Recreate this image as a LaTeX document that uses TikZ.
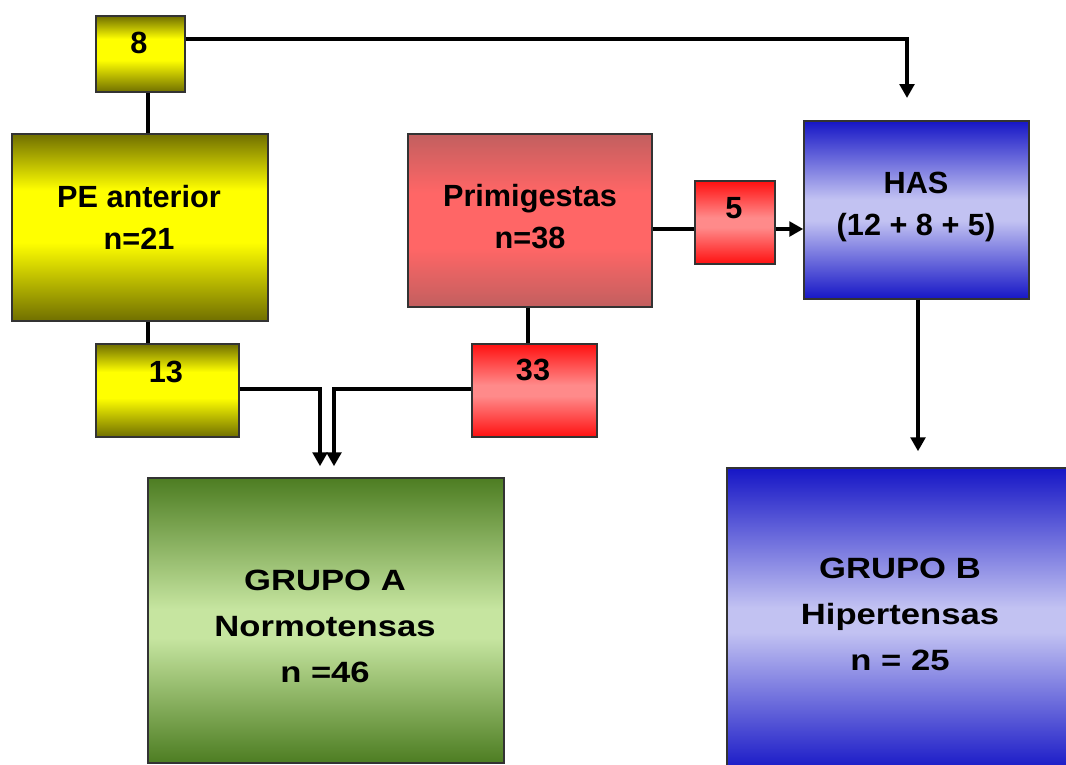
\documentclass[tikz,border=0pt]{standalone}
\usepackage{fontspec}
\setmainfont{Liberation Sans}
\usetikzlibrary{arrows.meta,calc}
\definecolor{olv}{HTML}{706F00}
\definecolor{ylw}{HTML}{FFFF00}
\definecolor{dred}{HTML}{C25F5F}
\definecolor{mred}{HTML}{FF6666}
\definecolor{rred}{HTML}{FF1010}
\definecolor{pred}{HTML}{FF8A8A}
\definecolor{dblu}{HTML}{1616C6}
\definecolor{lblu}{HTML}{C2C2F2}
\definecolor{dgrn}{HTML}{4D7D22}
\definecolor{lgrn}{HTML}{C6E5A0}
\pgfdeclareverticalshading{shyel}{100bp}{color(0bp)=(olv); color(25bp)=(olv); color(46bp)=(ylw); color(60bp)=(ylw); color(75bp)=(olv); color(100bp)=(olv)}
\pgfdeclareverticalshading{shrosy}{100bp}{color(0bp)=(dred); color(25bp)=(dred); color(42bp)=(mred); color(58bp)=(mred); color(75bp)=(dred); color(100bp)=(dred)}
\pgfdeclareverticalshading{shred}{100bp}{color(0bp)=(rred); color(25bp)=(rred); color(47bp)=(pred); color(53bp)=(pred); color(75bp)=(rred); color(100bp)=(rred)}
\pgfdeclareverticalshading{shblu}{100bp}{color(0bp)=(dblu); color(25bp)=(dblu); color(47bp)=(lblu); color(53bp)=(lblu); color(75bp)=(dblu); color(100bp)=(dblu)}
\pgfdeclareverticalshading{shblub}{100bp}{color(0bp)=(dblu); color(25bp)=(dblu); color(48bp)=(lblu); color(52bp)=(lblu); color(75bp)=(dblu); color(100bp)=(dblu)}
\pgfdeclareverticalshading{shgrn}{100bp}{color(0bp)=(dgrn); color(25bp)=(dgrn); color(47bp)=(lgrn); color(52bp)=(lgrn); color(75bp)=(dgrn); color(100bp)=(dgrn)}
\newcommand\mlines[1]{\begin{tabular}[t]{@{}c@{}}#1\end{tabular}}
\tikzset{
  bx/.style={draw=black!80, line width=1.1pt, inner sep=0pt, rectangle},
  sz/.style 2 args={minimum width=#1*0.75pt, minimum height=#2*0.75pt},
  yel/.style={bx, shading=shyel},
  rosy/.style={bx, shading=shrosy},
  redb/.style={bx, shading=shred},
  blu/.style={bx, shading=shblu},
  blub/.style={bx, shading=shblub},
  grn/.style={bx, shading=shgrn},
  txt/.style={anchor=base, inner sep=0pt, font=\fontsize{23}{31.5}\selectfont\bfseries},
  gtxt/.style={anchor=base, inner sep=0pt, font=\fontsize{22}{34.5}\selectfont\bfseries},
  ln/.style={line width=3pt},
  arr/.style={line width=3pt, -{Triangle[width=11pt,length=10.5pt]}}
}
\begin{document}
\begin{tikzpicture}[x=0.75pt,y=-0.75pt]
\useasboundingbox (0,0) rectangle (1066,764);
% boxes
\node[yel, sz={89}{76}] (n8) at (140.5,54) {};
\node[yel, sz={256}{187}] (pe) at (140,227.5) {};
\node[yel, sz={143}{93}] (n13) at (167.5,390.5) {};
\node[rosy, sz={244}{173}] (pr) at (530,220.5) {};
\node[redb, sz={125}{93}] (n33) at (534.5,390.5) {};
\node[redb, sz={80}{83}] (n5) at (735,222.5) {};
\node[blu, sz={225}{178}] (has) at (916.5,210) {};
\node[grn, sz={356}{285}] (ga) at (326,620.5) {};
\node[blub, sz={346}{304}] (gb) at (900,620) {};
% texts
\node[txt] (t8) at (139,53) {8};
\node[txt] (tpe) at (139,207) {\mlines{PE anterior\\n=21}};
\node[txt] (t13) at (166,382) {13};
\node[txt] (tpr) at (530,206) {\mlines{Primigestas\\n=38}};
\node[txt] (t33) at (533,380) {33};
\node[txt] (t5) at (734,218) {5};
\node[txt] (thas) at (916,193) {\mlines{HAS\\(12 + 8 + 5)}};
\node[gtxt] (tga) at (325,590) {\scalebox{1.18}[1]{\mlines{GRUPO A\\Normotensas\\n =46}}};
\node[gtxt] (tgb) at (900,578) {\scalebox{1.18}[1]{\mlines{GRUPO B\\Hipertensas\\n = 25}}};
% helper coordinates
\coordinate (y39) at (0,39);
\coordinate (y229) at (0,229);
\coordinate (y389) at (0,389);
\coordinate (x148) at (148,0);
\coordinate (x320) at (320,0);
\coordinate (x334) at (334,0);
\coordinate (x528) at (528,0);
\coordinate (x918) at (918,0);
\coordinate (e8) at (907,98);
% connectors
\draw[arr] (n8.east |- y39) -| (e8);
\draw[ln] (n8.south -| x148) -- (pe.north -| x148);
\draw[ln] (pe.south -| x148) -- (n13.north -| x148);
\draw[arr, shorten >=8.25pt] (n13.east |- y389) -| (ga.north -| x320);
\draw[arr, shorten >=8.25pt] (n33.west |- y389) -| (ga.north -| x334);
\draw[ln] (pr.south -| x528) -- (n33.north -| x528);
\draw[ln] (pr.east |- y229) -- (n5.west |- y229);
\draw[arr] (n5.east |- y229) -- (has.west |- y229);
\draw[arr, shorten >=12pt] (has.south -| x918) -- (gb.north -| x918);
\end{tikzpicture}
\end{document}
